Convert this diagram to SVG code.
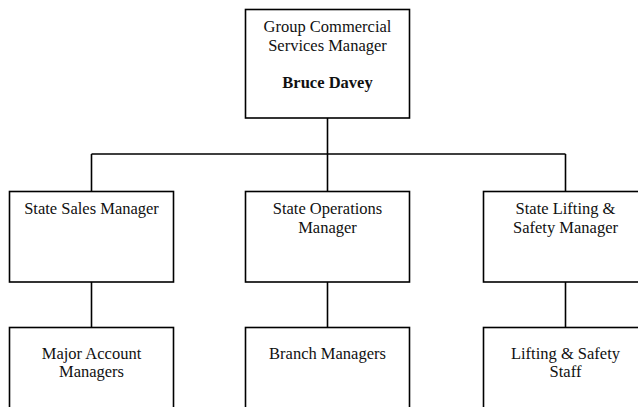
<svg xmlns="http://www.w3.org/2000/svg" width="638" height="407" viewBox="0 0 638 407">
<style>
.box{fill:#fff;stroke:#000;stroke-width:1.6}
.t{font-family:"Liberation Serif","Times New Roman",serif;font-size:16.5px;fill:#111;text-anchor:middle}
.b{font-weight:bold}
.c{stroke:#000;stroke-width:1.6;fill:none}
</style>
<rect width="638" height="407" fill="#fff"/>
<g id="connectors">
<path class="c" d="M327.5 118V154M91.5 154H565.5M91.5 154V191M327.5 154V191M565.5 154V191"/>
<path class="c" d="M91.5 282V327M327.5 282V327M565.5 282V327"/>
</g>
<g id="top">
<rect class="box" x="245.5" y="9.5" width="164" height="108.5"/>
<text class="t" x="327.5" y="32">Group Commercial</text>
<text class="t" x="327.5" y="51">Services Manager</text>
<text class="t b" x="327.5" y="88">Bruce Davey</text>
</g>
<g id="sales">
<rect class="box" x="9.5" y="191.5" width="164" height="90.5"/>
<text class="t" x="91.5" y="214">State Sales Manager</text>
</g>
<g id="ops">
<rect class="box" x="245.5" y="191.5" width="164" height="90.5"/>
<text class="t" x="327.5" y="214">State Operations</text>
<text class="t" x="327.5" y="233">Manager</text>
</g>
<g id="lifting">
<rect class="box" x="483.5" y="191.5" width="164" height="90.5"/>
<text class="t" x="565.5" y="214">State Lifting &amp;</text>
<text class="t" x="565.5" y="233">Safety Manager</text>
</g>
<g id="major">
<rect class="box" x="9.5" y="327.5" width="164" height="100"/>
<text class="t" x="91.5" y="359">Major Account</text>
<text class="t" x="91.5" y="377">Managers</text>
</g>
<g id="branch">
<rect class="box" x="245.5" y="327.5" width="164" height="100"/>
<text class="t" x="327.5" y="359">Branch Managers</text>
</g>
<g id="staff">
<rect class="box" x="483.5" y="327.5" width="164" height="100"/>
<text class="t" x="565.5" y="359">Lifting &amp; Safety</text>
<text class="t" x="565.5" y="377">Staff</text>
</g>
</svg>
